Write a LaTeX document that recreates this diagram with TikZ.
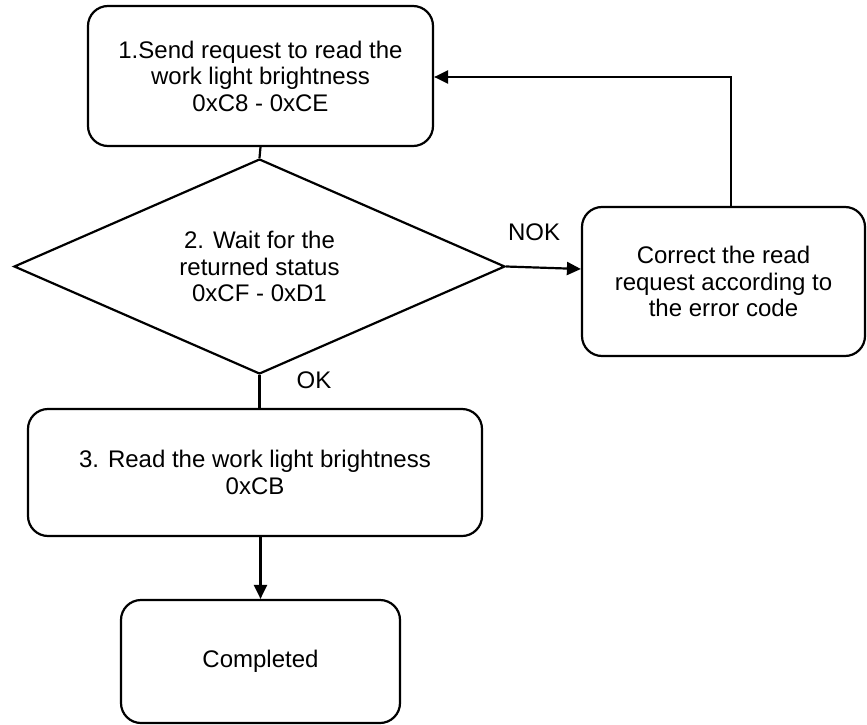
\documentclass[tikz,border=0pt]{standalone}
\usepackage{fontspec}
\setmainfont{Liberation Sans}
\usetikzlibrary{shapes.geometric,arrows.meta}
\begin{document}
\begin{tikzpicture}[x=1pt,y=-1pt,
  every node/.style={font=\fontsize{24}{26.5}\selectfont, align=center},
  stepbox/.style={draw, line width=2.2pt, rounded corners=20pt, inner sep=0pt},
  decision/.style={draw, diamond, line width=2.2pt, inner sep=0pt, aspect=2.28},
  lbl/.style={inner sep=0pt},
  arr/.style={line width=2.2pt, -{Triangle[length=14pt,width=13pt]}},
  ln/.style={line width=2.2pt}]
\useasboundingbox (0,0) rectangle (867,725);
\node[stepbox, minimum width=345pt, minimum height=140pt] (b1) at (260.5,76)
  {1.Send request to read the\\work light brightness\\0xC8 - 0xCE};
\node[decision, minimum width=491pt, minimum height=215pt] (d) at (259.5,266.5)
  {2. Wait for the\\returned status\\0xCF - 0xD1};
\node[stepbox, minimum width=283pt, minimum height=149pt] (c) at (723.5,281.5)
  {Correct the read\\request according to\\the error code};
\node[stepbox, minimum width=454pt, minimum height=127pt] (b3) at (255,472.5)
  {3. Read the work light brightness\\0xCB};
\node[stepbox, minimum width=279pt, minimum height=123pt] (e) at (260.5,661.5)
  {Completed};
\node[lbl] (nok) at (534,232) {NOK};
\node[lbl] (ok) at (314,380) {OK};
\coordinate (k) at (731,77);
\draw[ln] (b1.south) -- (d.north);
\draw[ln] (d.south) -- (d.south |- b3.north);
\draw[arr] (d.east) -- ([yshift=12.5pt]c.west);
\draw[arr] (c.north -| k) -- (k) -- (b1.east |- k);
\draw[arr] (b3.south -| e.north) -- (e.north);
\end{tikzpicture}
\end{document}
